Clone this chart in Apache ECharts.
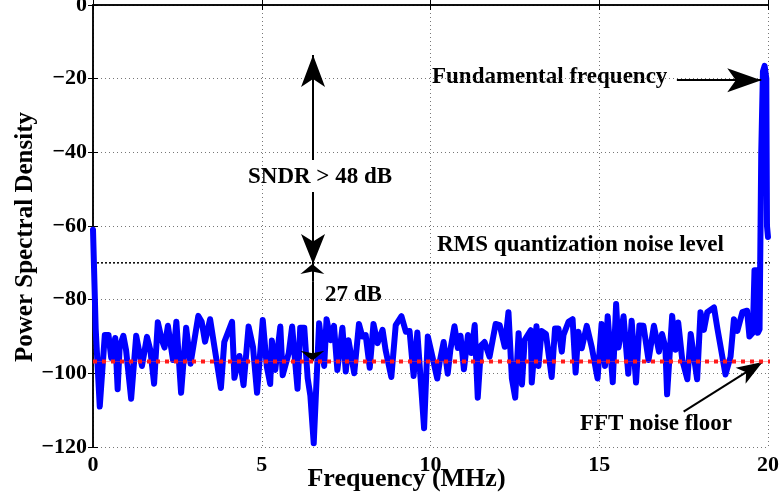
<!DOCTYPE html>
<html>
<head>
<meta charset="utf-8">
<script src="https://cdn.jsdelivr.net/npm/echarts@6/dist/echarts.min.js"></script>
<style>
  html, body { margin: 0; padding: 0; background: #fff; }
  #chart { width: 779px; height: 496px; }
</style>
</head>
<body>
<div id="chart"></div>
<script>
// spectrum (MHz, dB)
const freqMHz = [
  0.00, 0.08, 0.20, 0.35, 0.46, 0.54, 0.66, 0.73, 0.79, 0.90, 0.98, 1.13, 1.28, 1.45, 1.60, 1.70, 1.81, 1.92,
  2.04, 2.12, 2.22, 2.37, 2.47, 2.61, 2.76, 2.89, 3.12, 3.22, 3.32, 3.47, 3.62, 3.79, 3.89, 4.12, 4.19, 4.34,
  4.46, 4.61, 4.74, 4.86, 5.03, 5.15, 5.25, 5.30, 5.40, 5.55, 5.62, 5.80, 5.90, 6.06, 6.14, 6.26, 6.36, 6.44,
  6.54, 6.70, 6.85, 6.92, 7.04, 7.14, 7.24, 7.39, 7.49, 7.57, 7.74, 7.88, 7.98, 8.08, 8.20, 8.31, 8.43, 8.58,
  8.67, 8.84, 8.97, 9.14, 9.27, 9.38, 9.50, 9.61, 9.81, 9.92, 10.02, 10.20, 10.27, 10.39, 10.51, 10.59, 10.71,
  10.81, 10.89, 10.99, 11.11, 11.21, 11.31, 11.40, 11.50, 11.60, 11.75, 11.93, 12.05, 12.20, 12.31, 12.41,
  12.51, 12.61, 12.71, 12.79, 12.97, 13.00, 13.14, 13.20, 13.29, 13.42, 13.59, 13.69, 13.79, 13.89, 13.94,
  14.09, 14.21, 14.30, 14.38, 14.48, 14.63, 14.78, 14.95, 15.07, 15.17, 15.25, 15.40, 15.50, 15.57, 15.72,
  15.86, 15.96, 16.09, 16.19, 16.31, 16.46, 16.62, 16.77, 16.86, 16.96, 17.01, 17.16, 17.26, 17.34, 17.46,
  17.61, 17.71, 17.90, 18.00, 18.10, 18.20, 18.40, 18.50, 18.74, 18.89, 18.99, 19.09, 19.24, 19.38, 19.45,
  19.55, 19.60, 19.66, 19.70, 19.75, 19.80, 19.85, 19.90, 19.95, 19.97, 20.00
]
const psdDb = [
  -61, -88, -109, -89.6, -89.6, -95.8, -90.4, -104.3, -92.8, -89.8, -93.7, -106.9, -89.8, -98, -90.1, -93.7, -102.8, -86.1,
  -91, -93, -87.1, -96.4, -86, -105.3, -87.6, -97.4, -84.4, -86, -91.4, -85.3, -94.1, -104, -91.5, -86, -101.2, -95.3,
  -103.2, -87.3, -92.8, -105.3, -85.5, -98.2, -102.9, -91.1, -99.1, -87.3, -100.5, -94.5, -87.3, -104.2, -87.6, -87.6, -101.3, -106,
  -119, -86.4, -98, -85.3, -91, -87.1, -99.1, -87.6, -99.5, -91, -100, -86.6, -90, -89.6, -98.5, -86.6, -91.8, -88.2,
  -93.7, -101, -86.9, -84.5, -88.7, -88.5, -100.7, -88.9, -114.9, -90, -94, -101.4, -97, -91.5, -100.1, -93.5, -87.2,
  -93.1, -89.8, -98.9, -89.6, -94.5, -86.9, -106.6, -92.4, -91.5, -95.5, -86.6, -86.9, -92.8, -83.4, -101.3,
  -106.6, -89.1, -103, -91, -88.3, -102.5, -87.2, -98, -88.5, -89.3, -101, -87.8, -87.8, -94.1, -89.6,
  -86, -85.3, -99.8, -88.7, -93.2, -87.1, -93, -101.4, -86.6, -98, -84.5, -102.4, -81.2, -93, -84.5,
  -100.1, -85.7, -102.5, -87, -87.1, -96.4, -87.1, -94.1, -89.3, -93, -105.7, -84.4, -93.6, -86.2, -96.4,
  -101.6, -89.3, -101.6, -83.4, -88.2, -83.4, -82.1, -87.8, -100.3, -95.5, -85.3, -88.5, -83.4, -83, -90,
  -89, -72, -72, -89, -88, -40, -18, -16.5, -20, -60, -63
]

const xTicks = [0, 5, 10, 15, 20]
const yTicks = [-120, -100, -80, -60, -40, -20, 0]
const noiseFloorDb = -96.8
const rmsNoiseDb = -70

const SERIF = '"Liberation Serif", "Times New Roman", serif'
const minus = (v) => String(v).replace('-', '\u2212')

const chart = echarts.init(document.getElementById('chart'))

const arrowEnd = (from, to, size) => [
  { coord: from, symbol: 'none' },
  { coord: to, symbol: 'arrow', symbolSize: size },
]

const option = {
  animation: false,
  grid: { left: 93, right: 11, top: 5, bottom: 49, outerBoundsMode: 'none', containLabel: false },
  xAxis: [
    {
      type: 'value',
      min: xTicks[0],
      max: xTicks[xTicks.length - 1],
      interval: 5,
      name: 'Frequency (MHz)',
      nameLocation: 'middle',
      nameGap: 19,
      nameMoveOverlap: false,
      nameTextStyle: { fontFamily: SERIF, fontWeight: 'bold', fontSize: 26, color: '#000', padding: [0, 48, 0, 0] },
      axisLine: { lineStyle: { color: '#000', width: 1.5 } },
      axisTick: { inside: true, length: 5, lineStyle: { color: '#000' } },
      axisLabel: { fontFamily: SERIF, fontWeight: 'bold', fontSize: 22, color: '#000', margin: 7 },
      splitLine: { show: true, lineStyle: { color: '#777', type: [1, 3], width: 1 } },
    },
    {
      type: 'value',
      position: 'top',
      min: 0,
      max: 20,
      interval: 5,
      axisLine: { show: true, lineStyle: { color: '#000', width: 1.5 } },
      axisTick: { inside: true, length: 5, lineStyle: { color: '#000' } },
      axisLabel: { show: false },
      splitLine: { show: false },
    },
  ],
  yAxis: [
    {
      type: 'value',
      min: yTicks[0],
      max: yTicks[yTicks.length - 1],
      interval: 20,
      name: 'Power Spectral Density',
      nameLocation: 'middle',
      nameRotate: 90,
      nameGap: 55,
      nameMoveOverlap: false,
      nameTextStyle: { fontFamily: SERIF, fontWeight: 'bold', fontSize: 25, color: '#000', padding: [0, 22, 0, 0] },
      axisLine: { show: true, lineStyle: { color: '#000', width: 1.5 } },
      axisTick: { show: true, inside: true, length: 5, lineStyle: { color: '#000' } },
      axisLabel: { fontFamily: SERIF, fontWeight: 'bold', fontSize: 22, color: '#000', margin: 6, formatter: minus },
      splitLine: { show: true, lineStyle: { color: '#777', type: [1, 3], width: 1 } },
    },
    {
      type: 'value',
      position: 'right',
      min: -120,
      max: 0,
      interval: 20,
      axisLine: { show: true, lineStyle: { color: '#000', width: 1.5 } },
      axisTick: { show: true, inside: true, length: 5, lineStyle: { color: '#000' } },
      axisLabel: { show: false },
      splitLine: { show: false },
    },
  ],
  series: [
    {
      name: 'RMS quantization noise level',
      type: 'line',
      clip: false,
      symbol: 'none',
      data: [[0, rmsNoiseDb], [20.12, rmsNoiseDb]],
      lineStyle: { color: '#000', width: 1.5, type: [2, 2] },
      z: 2,
    },
    {
      name: 'PSD',
      type: 'line',
      symbol: 'none',
      data: freqMHz.map((f, i) => [f, psdDb[i]]),
      lineStyle: { color: '#0000ff', width: 6, join: 'round', cap: 'round' },
      z: 3,
    },
    {
      name: 'floor-thin',
      type: 'line',
      clip: false,
      symbol: 'none',
      data: [[0, noiseFloorDb], [20.24, noiseFloorDb]],
      lineStyle: { color: 'rgba(255,60,60,0.45)', width: 1 },
      z: 4,
    },
    {
      name: 'FFT noise floor',
      type: 'line',
      clip: false,
      symbol: 'none',
      data: [[0, noiseFloorDb], [20.24, noiseFloorDb]],
      lineStyle: { color: '#ff1a1a', width: 4, type: [4, 5] },
      z: 5,
    },
    {
      name: 'annotations',
      type: 'line',
      data: [],
      z: 6,
      markLine: {
        silent: true,
        animation: false,
        label: { show: false },
        lineStyle: { color: '#000', width: 2, type: 'solid' },
        data: [
          arrowEnd([17.3, -20.4], [19.8, -20.4], [18, 34]),
          arrowEnd([6.52, -42.1], [6.52, -13.6], [18, 32]),
          arrowEnd([6.52, -50.8], [6.52, -70.3], [18, 30]),
          [
            { coord: [6.5, -75], symbol: 'none' },
            { coord: [6.5, -70.3], symbol: 'arrow', symbolSize: [18, 10] },
          ],
          [
            { coord: [6.5, -75], symbol: 'none' },
            { coord: [6.5, -96.6], symbol: 'arrow', symbolSize: [18, 10] },
          ],
          arrowEnd([17.5, -110.4], [19.84, -96.9], [14, 26]),
        ],
      },
    },
  ],
  graphic: [
    { type: 'text', left: 432, top: 66, style: { text: 'Fundamental frequency', font: 'bold 23px ' + SERIF, fill: '#000' } },
    { type: 'text', left: 248, top: 166, style: { text: 'SNDR > 48 dB', font: 'bold 23px ' + SERIF, fill: '#000' } },
    { type: 'text', left: 437, top: 234, style: { text: 'RMS quantization noise level', font: 'bold 23px ' + SERIF, fill: '#000' } },
    { type: 'text', left: 325, top: 284, style: { text: '27 dB', font: 'bold 23px ' + SERIF, fill: '#000' } },
    { type: 'text', left: 580, top: 413, style: { text: 'FFT noise floor', font: 'bold 23px ' + SERIF, fill: '#000' } },
  ],
}

chart.setOption(option)
</script>
</body>
</html>
